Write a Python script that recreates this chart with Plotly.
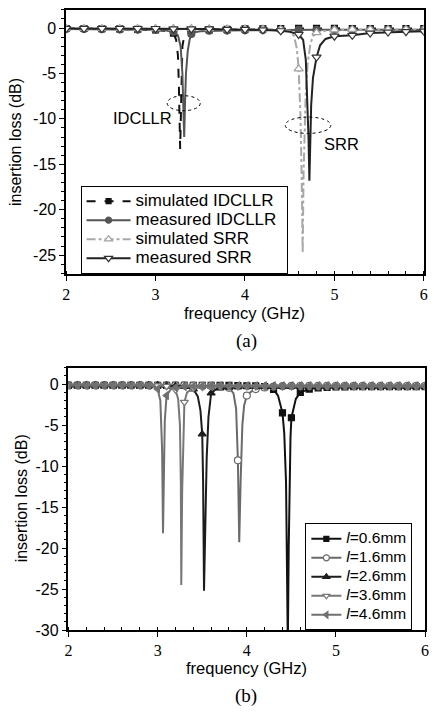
import plotly.graph_objects as go

# ---------------- data: panel (a) ----------------
sim_idcllr_f = [2.0, 2.2, 2.4, 2.6, 2.8, 3.0, 3.1, 3.2, 3.23, 3.25, 3.26, 3.275, 3.29, 3.3, 3.32, 3.35, 3.4,
                3.6, 3.8, 4.0, 4.2, 4.4, 4.6, 4.8, 5.0, 5.2, 5.4, 5.6, 5.8, 6.0]
sim_idcllr_v = [-0.05, -0.05, -0.08, -0.1, -0.15, -0.2, -0.3, -0.55, -1.3, -3.0, -6.0, -13.3, -4.0, -2.0, -0.9, -0.5, -0.3,
                -0.2, -0.15, -0.1, -0.08, -0.05, -0.03, -0.03, -0.03, -0.05, -0.05, -0.05, -0.05, -0.05]

meas_idcllr_f = [2.0, 2.2, 2.4, 2.6, 2.8, 3.0, 3.1, 3.2, 3.25, 3.28, 3.3, 3.31, 3.32, 3.33, 3.34, 3.36, 3.38, 3.4,
                 3.45, 3.5, 3.6, 3.8, 4.0, 4.2, 4.4, 4.6, 4.8, 5.0, 5.2, 5.4, 5.6, 5.8, 6.0]
meas_idcllr_v = [-0.1, -0.1, -0.12, -0.15, -0.18, -0.2, -0.25, -0.4, -0.8, -2.0, -5.0, -8.5, -12.0, -8.0, -5.0, -2.5, -1.3, -0.65,
                 -0.45, -0.35, -0.3, -0.28, -0.25, -0.22, -0.2, -0.2, -0.2, -0.2, -0.2, -0.2, -0.2, -0.2, -0.2]

sim_srr_f = [2.0, 2.2, 2.4, 2.6, 2.8, 3.0, 3.2, 3.4, 3.6, 3.8, 4.0, 4.2, 4.4, 4.5, 4.55, 4.58, 4.6, 4.62, 4.635,
             4.645, 4.655, 4.67, 4.68, 4.7, 4.73, 4.76, 4.8, 4.9, 5.0, 5.2, 5.4, 5.6, 5.8, 6.0]
sim_srr_v = [-0.05, -0.05, -0.05, -0.05, -0.05, -0.05, -0.05, -0.05, -0.08, -0.1, -0.1, -0.12, -0.15, -0.3, -0.9, -2.3, -4.5, -9.5, -17.0,
             -24.8, -16.0, -10.0, -7.0, -4.0, -1.8, -0.9, -0.5, -0.3, -0.2, -0.15, -0.15, -0.15, -0.15, -0.15]

meas_srr_f = [2.0, 2.2, 2.4, 2.6, 2.8, 3.0, 3.2, 3.4, 3.6, 3.8, 4.0, 4.2, 4.4, 4.5, 4.6, 4.65, 4.68, 4.7, 4.71,
              4.72, 4.73, 4.74, 4.76, 4.8, 4.84, 4.9, 5.0, 5.2, 5.4, 5.6, 5.8, 6.0]
meas_srr_v = [-0.05, -0.05, -0.05, -0.05, -0.05, -0.05, -0.1, -0.1, -0.1, -0.15, -0.15, -0.2, -0.3, -0.4, -0.7, -1.3, -3.5, -8.0, -12.0,
              -16.8, -12.0, -8.5, -5.5, -3.2, -1.9, -1.2, -0.9, -0.8, -0.55, -0.45, -0.4, -0.35]

# ---------------- data: panel (b) ----------------
l06_f = [2.0, 2.1, 2.2, 2.3, 2.4, 2.5, 2.6, 2.7, 2.8, 2.9, 3.0, 3.1, 3.2, 3.3, 3.4, 3.5, 3.6, 3.7, 3.8, 3.9, 4.0, 4.1, 4.2,
         4.25, 4.3, 4.35, 4.4, 4.42, 4.44, 4.45, 4.46, 4.47, 4.48, 4.49, 4.5, 4.55, 4.6, 4.7, 4.8, 4.9, 5.0,
         5.1, 5.2, 5.3, 5.4, 5.5, 5.6, 5.7, 5.8, 5.9, 6.0]
l06_v = [-0.15, -0.15, -0.15, -0.15, -0.15, -0.15, -0.15, -0.15, -0.15, -0.15, -0.15, -0.15, -0.15, -0.15, -0.15, -0.15, -0.15, -0.15, -0.15, -0.18, -0.2, -0.22, -0.3,
         -0.42, -0.65, -1.4, -3.5, -6.0, -12.0, -20.0, -32.0, -20.0, -11.0, -6.5, -4.1, -1.8, -1.0, -0.6, -0.45, -0.4, -0.35,
         -0.33, -0.3, -0.3, -0.3, -0.3, -0.3, -0.3, -0.3, -0.3, -0.3]

l16_f = [2.0, 2.1, 2.2, 2.3, 2.4, 2.5, 2.6, 2.7, 2.8, 2.9, 3.0, 3.1, 3.2, 3.3, 3.4, 3.5, 3.6, 3.7, 3.8, 3.85, 3.88, 3.9,
         3.91, 3.915, 3.93, 3.95, 3.97, 4.0, 4.05, 4.1, 4.2, 4.3, 4.4, 4.5, 4.6, 4.7, 4.8, 4.9, 5.0,
         5.1, 5.2, 5.3, 5.4, 5.5, 5.6, 5.7, 5.8, 5.9, 6.0]
l16_v = [-0.15, -0.15, -0.15, -0.15, -0.15, -0.15, -0.15, -0.15, -0.15, -0.15, -0.15, -0.15, -0.15, -0.15, -0.18, -0.2, -0.22, -0.28, -0.45, -1.1, -3.0, -9.3,
         -15.0, -19.3, -12.0, -5.0, -2.6, -1.4, -0.9, -0.6, -0.4, -0.3, -0.25, -0.22, -0.2, -0.2, -0.2, -0.2, -0.2,
         -0.2, -0.2, -0.2, -0.2, -0.2, -0.2, -0.2, -0.2, -0.2, -0.2]

l26_f = [2.0, 2.1, 2.2, 2.3, 2.4, 2.5, 2.6, 2.7, 2.8, 2.9, 3.0, 3.1, 3.2, 3.3, 3.4, 3.45, 3.48, 3.5, 3.51, 3.52,
         3.53, 3.55, 3.57, 3.6, 3.65, 3.7, 3.8, 3.9, 4.0, 4.1, 4.2, 4.3, 4.4, 4.5, 4.6, 4.7, 4.8, 4.9, 5.0,
         5.1, 5.2, 5.3, 5.4, 5.5, 5.6, 5.7, 5.8, 5.9, 6.0]
l26_v = [-0.15, -0.15, -0.15, -0.15, -0.15, -0.15, -0.15, -0.15, -0.15, -0.15, -0.15, -0.18, -0.22, -0.3, -0.6, -1.5, -3.2, -6.1, -12.0, -25.2,
         -18.0, -9.0, -4.0, -1.1, -0.65, -0.5, -0.4, -0.35, -0.3, -0.3, -0.3, -0.3, -0.3, -0.3, -0.3, -0.3, -0.3, -0.3, -0.3,
         -0.3, -0.3, -0.3, -0.3, -0.3, -0.3, -0.3, -0.3, -0.3, -0.3]

l36_f = [2.0, 2.1, 2.2, 2.3, 2.4, 2.5, 2.6, 2.7, 2.8, 2.9, 3.0, 3.1, 3.2, 3.23, 3.25, 3.26, 3.265, 3.275, 3.29, 3.3,
         3.33, 3.4, 3.5, 3.6, 3.7, 3.8, 3.9, 4.0, 4.1, 4.2, 4.3, 4.4, 4.5, 4.6, 4.7, 4.8, 4.9, 5.0,
         5.1, 5.2, 5.3, 5.4, 5.5, 5.6, 5.7, 5.8, 5.9, 6.0]
l36_v = [-0.15, -0.15, -0.15, -0.15, -0.15, -0.15, -0.15, -0.15, -0.15, -0.15, -0.18, -0.25, -0.7, -1.8, -5.0, -12.0, -24.5, -13.0, -4.5, -2.2,
         -1.0, -0.5, -0.35, -0.3, -0.3, -0.3, -0.3, -0.3, -0.3, -0.3, -0.3, -0.3, -0.3, -0.3, -0.3, -0.3, -0.3, -0.3,
         -0.3, -0.3, -0.3, -0.3, -0.3, -0.3, -0.3, -0.3, -0.3, -0.3]

l46_f = [2.0, 2.1, 2.2, 2.3, 2.4, 2.5, 2.6, 2.7, 2.8, 2.9, 2.95, 3.0, 3.03, 3.05, 3.06, 3.07, 3.08, 3.1, 3.15,
         3.2, 3.3, 3.4, 3.5, 3.6, 3.7, 3.8, 3.9, 4.0, 4.1, 4.2, 4.3, 4.4, 4.5, 4.6, 4.7, 4.8, 4.9, 5.0,
         5.1, 5.2, 5.3, 5.4, 5.5, 5.6, 5.7, 5.8, 5.9, 6.0]
l46_v = [-0.15, -0.15, -0.15, -0.15, -0.15, -0.15, -0.15, -0.15, -0.15, -0.18, -0.3, -0.6, -2.0, -8.0, -18.2, -9.0, -4.5, -1.4, -0.6,
         -0.4, -0.3, -0.25, -0.22, -0.2, -0.2, -0.2, -0.2, -0.2, -0.2, -0.2, -0.2, -0.2, -0.2, -0.2, -0.2, -0.2, -0.2, -0.2,
         -0.2, -0.2, -0.2, -0.2, -0.2, -0.2, -0.2, -0.2, -0.2, -0.2]

x_ticks = [2, 3, 4, 5, 6]
y_ticks_a = [0, -5, -10, -15, -20, -25]
y_ticks_b = [0, -5, -10, -15, -20, -25, -30]

SANS = "Liberation Sans, Arial, sans-serif"
SERIF = "Liberation Serif, Times New Roman, serif"
W, H = 436, 718


def on_grid(f, step):
    k = f / step
    return abs(k - round(k)) < 1e-6


fig = go.Figure()


def big(txt, size):
    return "<span style='font-size:%spx'>%s</span>" % (size, txt)


def add_series(f, v, name, color, dash, width, symbol, mfill, mline, msize, step, xa, ya, legend, lsize):
    fig.add_trace(go.Scatter(x=f, y=v, mode="lines", line=dict(color=color, dash=dash, width=width),
                             xaxis=xa, yaxis=ya, showlegend=False, hoverinfo="skip"))
    mf = [a for a in f if on_grid(a, step)]
    mv = [b for a, b in zip(f, v) if on_grid(a, step)]
    fig.add_trace(go.Scatter(x=mf, y=mv, mode="markers",
                             marker=dict(symbol=symbol, color=mfill, size=msize, line=dict(color=mline, width=1.2)),
                             xaxis=xa, yaxis=ya, showlegend=False, cliponaxis=True))
    fig.add_trace(go.Scatter(x=[None], y=[None], mode="lines+markers", name=big(name, lsize),
                             line=dict(color=color, dash=dash, width=width),
                             marker=dict(symbol=symbol, color=mfill, size=msize - 1, line=dict(color=mline, width=1.2)),
                             xaxis=xa, yaxis=ya, legend=legend))


add_series(sim_idcllr_f, sim_idcllr_v, "simulated IDCLLR&nbsp;", "#111111", "dash", 2, "square", "#111111", "#111111", 6, 0.2, "x", "y", "legend", 17)
add_series(meas_idcllr_f, meas_idcllr_v, "measured IDCLLR&nbsp;", "#555555", "solid", 2, "circle", "#555555", "#555555", 7, 0.2, "x", "y", "legend", 17)
add_series(sim_srr_f, sim_srr_v, "simulated SRR", "#a8a8a8", "dashdot", 2, "triangle-up", "white", "#a0a0a0", 8, 0.2, "x", "y", "legend", 17)
add_series(meas_srr_f, meas_srr_v, "measured SRR", "#222222", "solid", 2, "triangle-down", "white", "#333333", 8, 0.2, "x", "y", "legend", 17)

add_series(l06_f, l06_v, "<i>l</i>=0.6mm", "#111111", "solid", 2, "square", "#111111", "#111111", 6, 0.1, "x2", "y2", "legend2", 15.5)
add_series(l16_f, l16_v, "<i>l</i>=1.6mm", "#6a6a6a", "solid", 2, "circle", "white", "#6a6a6a", 7, 0.1, "x2", "y2", "legend2", 15.5)
add_series(l26_f, l26_v, "<i>l</i>=2.6mm", "#1c1c1c", "solid", 2, "triangle-up", "#1c1c1c", "#1c1c1c", 7, 0.1, "x2", "y2", "legend2", 15.5)
add_series(l36_f, l36_v, "<i>l</i>=3.6mm", "#777777", "solid", 2, "triangle-down", "white", "#777777", 7, 0.1, "x2", "y2", "legend2", 15.5)
add_series(l46_f, l46_v, "<i>l</i>=4.6mm", "#707070", "solid", 2, "triangle-left", "#707070", "#707070", 7, 0.1, "x2", "y2", "legend2", 15.5)

# domains (pixels -> paper)
xa_dom = [63.3 / W, 427.7 / W]
xb_dom = [65.7 / W, 429.0 / W]
ya_dom = [(H - 277.7) / H, (H - 10) / H]
yb_dom = [(H - 638) / H, (H - 372.4) / H]

common_x = dict(range=[2, 6], tickvals=x_ticks, ticktext=[str(t) for t in x_ticks], ticks="outside", ticklen=5,
                tickwidth=1.2, tickcolor="black", showline=True, linecolor="black", linewidth=1.5, mirror=True,
                showgrid=False, zeroline=False, tickfont=dict(family=SERIF, size=16, color="black"),
                minor=dict(dtick=0.2, ticks="inside", ticklen=3, tickcolor="black", tickwidth=1))
common_y = dict(ticks="outside", ticklen=5, tickwidth=1.2, tickcolor="black", showline=True, linecolor="black",
                linewidth=1.5, mirror=True, showgrid=False, zeroline=False,
                tickfont=dict(family=SANS, size=16, color="black"),
                minor=dict(dtick=1, ticks="outside", ticklen=3, tickcolor="black", tickwidth=1))
top_ticks = dict(range=[2, 6], side="top", ticks="inside", dtick=0.2, tick0=2, ticklen=4, tickcolor="black",
                 tickwidth=1, showticklabels=False, showline=False, showgrid=False, zeroline=False)

legend_common = dict(xanchor="left", yanchor="top", bgcolor="white", bordercolor="black", borderwidth=1,
                     font=dict(family=SANS, size=11.5, color="black"), tracegroupgap=0)

fig.update_layout(
    width=W, height=H, margin=dict(l=0, r=0, t=0, b=0),
    paper_bgcolor="white", plot_bgcolor="white",
    xaxis=dict(domain=xa_dom, anchor="y", **common_x),
    yaxis=dict(domain=ya_dom, anchor="x", range=[-27.1, 2], tickvals=y_ticks_a,
               ticktext=[str(t) for t in y_ticks_a], **common_y),
    xaxis2=dict(domain=xb_dom, anchor="y2", **common_x),
    yaxis2=dict(domain=yb_dom, anchor="x2", range=[-30, 2], tickvals=y_ticks_b,
                ticktext=[str(t) for t in y_ticks_b], **common_y),
    xaxis3=dict(overlaying="x", anchor="y", **top_ticks),
    xaxis4=dict(overlaying="x2", anchor="y2", **top_ticks),
    legend=dict(x=78 / W, y=(H - 188) / H, itemwidth=44, **legend_common),
    legend2=dict(x=307 / W, y=(H - 530) / H, itemwidth=30, **legend_common),
    showlegend=True,
)

# ellipses + labels in panel (a)
fig.add_shape(type="circle", xref="x", yref="y", x0=3.13, x1=3.50, y0=-9.1, y1=-7.45,
              line=dict(color="black", width=1, dash="dot"))
fig.add_shape(type="circle", xref="x", yref="y", x0=4.45, x1=4.96, y0=-11.6, y1=-9.8,
              line=dict(color="black", width=1, dash="dot"))
fig.add_annotation(x=2.85, y=-9.9, xref="x", yref="y", text="IDCLLR", showarrow=False,
                   xanchor="center", yanchor="middle", font=dict(family=SANS, size=16.5, color="black"))
fig.add_annotation(x=5.08, y=-12.8, xref="x", yref="y", text="SRR", showarrow=False,
                   xanchor="center", yanchor="middle", font=dict(family=SANS, size=16.5, color="black"))

# axis titles & captions
for yc, xc_t, yt_c, yt_x, cap, cap_y in [(316.7, 245.5, 144, 11, "(a)", 345), (676.7, 247, 505, 18, "(b)", 705)]:
    fig.add_annotation(x=xc_t / W, y=(H - yc) / H, xref="paper", yref="paper", text="frequency (GHz)",
                       showarrow=False, xanchor="center", yanchor="middle",
                       font=dict(family=SANS, size=16.5, color="black"))
    fig.add_annotation(x=yt_x / W, y=(H - yt_c) / H, xref="paper", yref="paper", text="insertion loss (dB)",
                       textangle=-90, showarrow=False, xanchor="center", yanchor="middle",
                       font=dict(family=SANS, size=16, color="black"))
    fig.add_annotation(x=247 / W, y=(H - cap_y) / H, xref="paper", yref="paper", text=cap,
                       showarrow=False, xanchor="center", yanchor="middle",
                       font=dict(family=SERIF, size=19, color="black"))

fig.write_html("out.html")
